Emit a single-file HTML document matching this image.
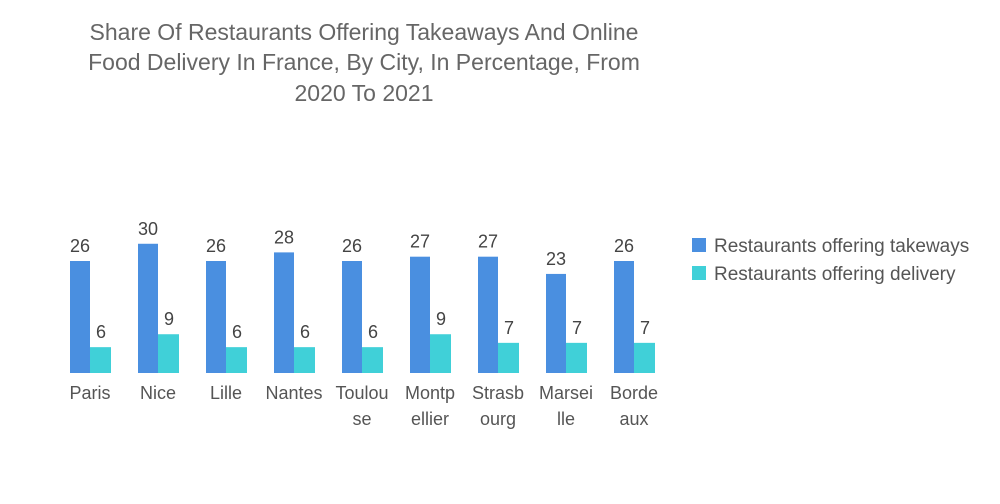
<!DOCTYPE html>
<html><head><meta charset="utf-8"><style>
body{margin:0;background:#fff;font-family:"Liberation Sans",sans-serif;}
svg{display:block}
</style></head><body>
<svg width="1000" height="504">
<g fill="#666" font-size="23" text-anchor="middle">
<text x="364" y="40">Share Of Restaurants Offering Takeaways And Online</text>
<text x="364" y="70">Food Delivery In France, By City, In Percentage, From</text>
<text x="364" y="101">2020 To 2021</text>
</g>
<g id="bars"></g>
<g font-size="19" fill="#555">
<rect x="692" y="238" width="14" height="14" fill="#4a8fe0"/>
<text x="714" y="252">Restaurants offering takeways</text>
<rect x="692" y="266" width="14" height="14" fill="#40d0d8"/>
<text x="714" y="280">Restaurants offering delivery</text>
</g>
</svg>
<script>
const categories=[["Paris"],["Nice"],["Lille"],["Nantes"],["Toulou","se"],["Montp","ellier"],["Strasb","ourg"],["Marsei","lle"],["Borde","aux"]];
const takeaways=[26,30,26,28,26,27,27,23,26];
const delivery=[6,9,6,6,6,9,7,7,7];
const NS="http://www.w3.org/2000/svg";
const g=document.getElementById('bars');
const base=373, scale=112/26;
const y=v=>base-v*scale;
const x0=i=>70+68*i;
function mk(t,a){const e=document.createElementNS(NS,t);for(const k in a)e.setAttribute(k,a[k]);g.appendChild(e);return e;}
categories.forEach((c,i)=>{
  const x=x0(i);
  let r=mk('rect',{x:x,y:y(takeaways[i]),width:20,height:takeaways[i]*scale,fill:'#4a8fe0'});
  
  
  r=mk('rect',{x:x+20,y:y(delivery[i]),width:21,height:delivery[i]*scale,fill:'#40d0d8'});
  
  
  let t=mk('text',{x:x+10,y:y(takeaways[i])-9,'text-anchor':'middle','font-size':18,fill:'#444'});
  t.textContent=takeaways[i];
  
  
  t=mk('text',{x:x+31,y:y(delivery[i])-9,'text-anchor':'middle','font-size':18,fill:'#444'});
  t.textContent=delivery[i];
  
  
  c.forEach((line,j)=>{
    const l=mk('text',{x:x+20,y:399+j*26,'text-anchor':'middle','font-size':18,fill:'#555'});
    l.textContent=line;
    
    
  });
});
</script>
</body></html>
